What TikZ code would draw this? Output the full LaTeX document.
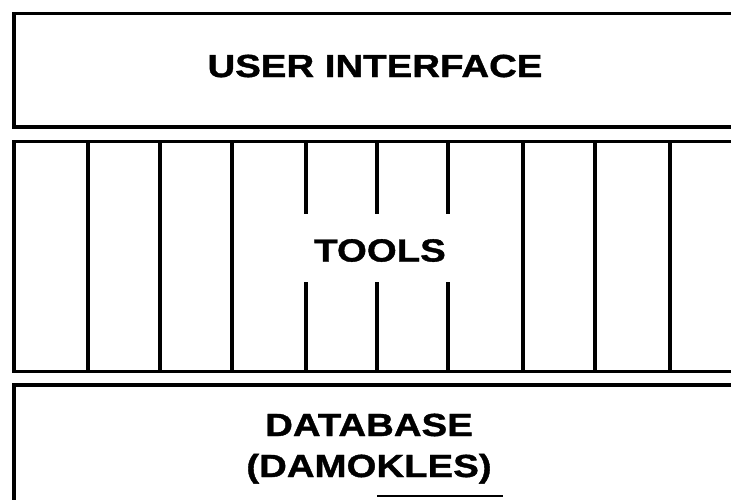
\documentclass[tikz,border=0pt]{standalone}
\usepackage{fontspec}
\newfontfamily\layerfont[FakeStretch=1.2,BoldFeatures={FakeBold=1.2}]{Liberation Sans}
\begin{document}
\begin{tikzpicture}[x=1pt,y=-1pt,
  rule/.style={line width=3.8pt,line cap=rect,line join=miter},
  layerlabel/.style={font=\layerfont\bfseries\fontsize{32}{41}\selectfont,inner sep=0pt,align=center}]
  \useasboundingbox (0,0) rectangle (731,499);
  \clip (0,0) rectangle (731,499);

  % user interface layer (open to the right)
  \draw[rule] (740,13.5) -- (14,13.5) -- (14,127) -- (740,127);
  \node[layerlabel] (ui) at (375,66) {USER INTERFACE};

  % tools layer with its column dividers
  \draw[rule] (740,141.5) -- (14,141.5) -- (14,371.5) -- (740,371.5);
  \foreach \xx in {88,160,232,523,595,670}
    \draw[rule] (\xx,141.5) -- (\xx,371.5);
  \foreach \xx in {306,377,448}{
    \draw[rule] (\xx,141.5) -- (\xx,212);
    \draw[rule] (\xx,284) -- (\xx,371.5);
  }
  \node[layerlabel] (tools) at (380,250.5) {TOOLS};

  % database layer (open to the right and below)
  \draw[rule] (740,385) -- (14,385) -- (14,510);
  \node[layerlabel,anchor=base] (db) at (369,477) {DATABASE\\(DAMOKLES)};
  \draw[line width=2pt] (377,495.5) -- (503,495.5);
\end{tikzpicture}
\end{document}
